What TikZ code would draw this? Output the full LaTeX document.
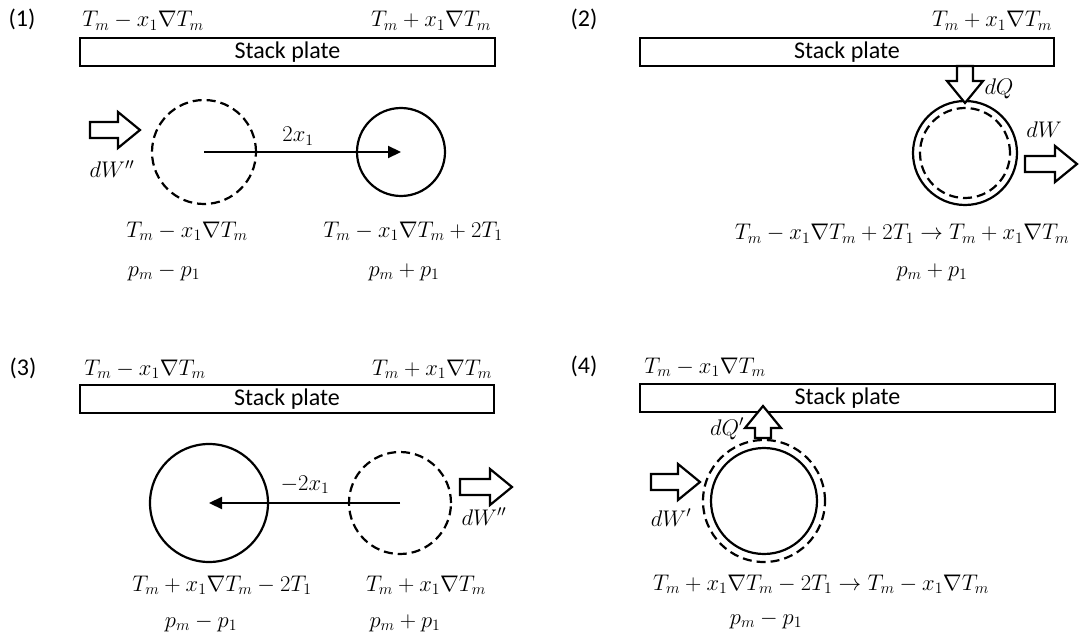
\RequirePackage{fix-cm}
\documentclass[tikz,border=0pt]{standalone}
\usepackage{fontspec}
\setsansfont{Carlito}
\usetikzlibrary{arrows.meta}
\tikzset{
  plate/.style  = {draw, line width=2.3pt, inner sep=0, minimum height=28,
                   font=\sffamily\fontsize{24}{28}\selectfont},
  bubble/.style = {circle, draw, line width=2.2pt, inner sep=0, minimum size=#1},
  ghost/.style  = {bubble=#1, dash pattern=on 9pt off 5pt},
  move/.style   = {line width=2.2pt, -{Triangle[length=13pt,width=12pt]}},
  fat/.style    = {line width=2.2pt, fill=white, line join=miter},
  lab/.style    = {inner sep=0, anchor=base, font=\fontsize{22.6}{26}\selectfont},
  num/.style    = {inner sep=0, anchor=base, font=\sffamily\fontsize{24}{28}\selectfont},
}
% hollow block arrow. #1 x, #2 y of the tip, #3 angle, #4 length
\newcommand{\fatarrow}[4]{%
  \begin{scope}[shift={(#1,#2)}, rotate=#3]
    \filldraw[fat] (0,0) -- (-22,18) -- (-22,8) -- (-#4,8) -- (-#4,-8)
      -- (-22,-8) -- (-22,-18) -- cycle;
  \end{scope}}

\begin{document}
\begin{tikzpicture}[x=1pt, y=-1pt]
\useasboundingbox (0,0) rectangle (1081,639);

% ===================== 1: dW'' pushes the parcel ======================
\node[num] (n1) at (22,27) {(1)};
\node[plate, minimum width=415] (plate1) at (287.5,52) {Stack plate};
\node[lab] (t1l) at (143,27) {$T_m - x_1\nabla T_m$};
\node[lab] (t1r) at (431,27) {$T_m + x_1\nabla T_m$};

\node[ghost=104] (b1old) at (204,152) {};
\node[bubble=88] (b1new) at (401,152) {};
\draw[move] (b1old.center) -- (b1new.center);
\node[lab] (d1) at (298,142) {$2x_1$};
\fatarrow{140}{130}{0}{50}
\node[lab] (w1) at (112,178) {$dW''$};

\node[lab] (s1old) at (187,237) {$T_m - x_1\nabla T_m$};
\node[lab] (p1old) at (164,276) {$p_m - p_1$};
\node[lab] (s1new) at (413,237) {$T_m - x_1\nabla T_m + 2T_1$};
\node[lab] (p1new) at (404,276) {$p_m + p_1$};

% ===================== 2: heat in, work out ===========================
\node[num] (n2) at (584,27) {(2)};
\node[plate, minimum width=414] (plate2) at (847,52) {Stack plate};
\node[lab] (t2r) at (992,27) {$T_m + x_1\nabla T_m$};

\node[bubble=104] (b2out) at (965,153) {};
\node[ghost=90] (b2in) at (965,153) {};
\fatarrow{965}{103}{-90}{37}
\node[lab] (q2) at (999,95) {$dQ$};
\fatarrow{1077}{164}{0}{52}
\node[lab] (w2) at (1044,138) {$dW$};

\node[lab] (s2) at (902,240)
  {$T_m - x_1\nabla T_m + 2T_1 \rightarrow T_m + x_1\nabla T_m$};
\node[lab] (p2) at (932,276) {$p_m + p_1$};

% ===================== 3: the parcel moves back =======================
\node[num] (n3) at (23,375) {(3)};
\node[plate, minimum width=414] (plate3) at (287,399) {Stack plate};
\node[lab] (t3l) at (145,375) {$T_m - x_1\nabla T_m$};
\node[lab] (t3r) at (432,375) {$T_m + x_1\nabla T_m$};

\node[bubble=118] (b3new) at (209,503) {};
\node[ghost=102] (b3old) at (400,503) {};
\draw[move] (b3old.center) -- (b3new.center);
\node[lab] (d3) at (305,490) {$-2x_1$};
\fatarrow{512}{487}{0}{52}
\node[lab] (w3) at (484,525) {$dW''$};

\node[lab] (s3new) at (222,591) {$T_m + x_1\nabla T_m - 2T_1$};
\node[lab] (p3new) at (201,627) {$p_m - p_1$};
\node[lab] (s3old) at (426,591) {$T_m + x_1\nabla T_m$};
\node[lab] (p3old) at (405,627) {$p_m + p_1$};

% ===================== 4: heat out, work in ===========================
\node[num] (n4) at (584,373) {(4)};
\node[plate, minimum width=415] (plate4) at (847.5,398) {Stack plate};
\node[lab] (t4l) at (705,373) {$T_m - x_1\nabla T_m$};

\node[ghost=122] (b4out) at (764,501) {};
\node[bubble=106] (b4in) at (764,501) {};
\fatarrow{763}{406}{90}{32}
\node[lab] (q4) at (727,435) {$dQ'$};
\fatarrow{700}{482}{0}{49}
\node[lab] (w4) at (671,526) {$dW'$};

\node[lab] (s4) at (821,590)
  {$T_m + x_1\nabla T_m - 2T_1 \rightarrow T_m - x_1\nabla T_m$};
\node[lab] (p4) at (766,624) {$p_m - p_1$};

\end{tikzpicture}
\end{document}
